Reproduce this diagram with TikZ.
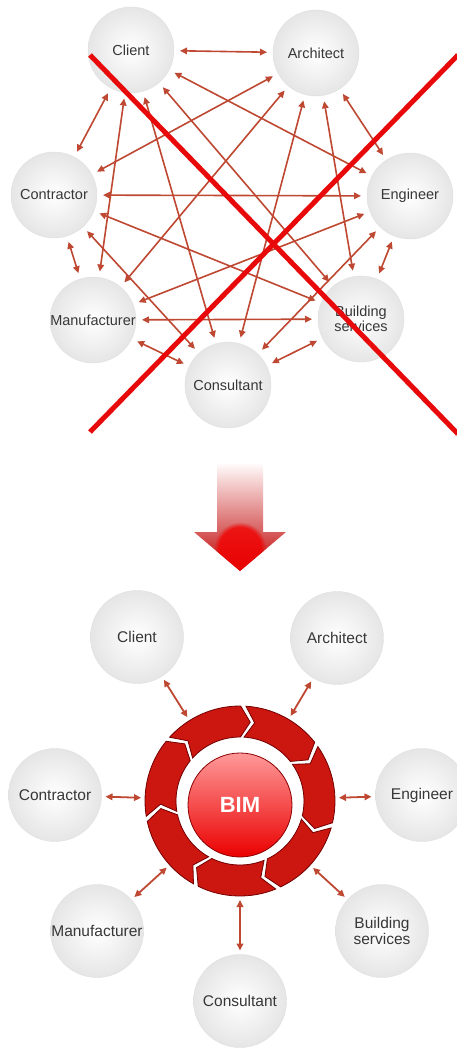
\documentclass[tikz,border=0pt]{standalone}
\usepackage{fontspec}
\setmainfont{Liberation Sans}
\usetikzlibrary{arrows.meta,fadings}
\definecolor{arrowc}{RGB}{190,72,50}
\definecolor{xred}{RGB}{232,10,10}
\definecolor{txt}{RGB}{55,55,55}
\definecolor{ringred}{RGB}{204,22,16}
\begin{document}
\begin{tikzpicture}[x=1pt,y=-1pt,
  bubble/.style={circle, inner sep=0pt, outer sep=0pt, inner color=white, outer color=black!10,
    draw=black!12, line width=0.4pt, text=txt, align=center},
  topb/.style={bubble, minimum size=86pt, font=\fontsize{14.5}{15}\selectfont},
  botb/.style={bubble, minimum size=93pt, font=\fontsize{15.5}{16.5}\selectfont},
  tip/.tip={Triangle[length=7pt,width=6.5pt]},
  link/.style={draw=arrowc, line width=1.6pt, {tip}-{tip}, shorten <=6pt, shorten >=6pt},
  blink/.style={draw=arrowc, line width=1.8pt, {tip}-{tip}, shorten <=4pt, shorten >=4pt},
  segment/.style={fill=ringred, draw=red!45!black, line width=0.8pt},
  xline/.style={draw=xred, line width=5pt}]
\fill[white] (0,0) rectangle (456,1054);
\useasboundingbox (0,0) rectangle (456,1054);

% ---------- top: everyone with everyone ----------
\node[topb] (cl) at (131,50) {Client};
\node[topb] (ar) at (316,53) {Architect};
\node[topb] (co) at (54,195) {Contractor};
\node[topb] (en) at (410,196) {Engineer};
\node[topb] (ma) at (93,320) {Manufacturer};
\node[topb] (bs) at (361,319) {Building\\services};
\node[topb] (cs) at (228,385) {Consultant};

\foreach \a/\b in {cl/ar, cl/co, ar/en, co/ma, en/bs, ma/cs, cs/bs, co/en, ma/bs,
  cl/en, cl/bs, cl/cs, cl/ma, ar/co, ar/ma, ar/cs, ar/bs, co/bs, co/cs, en/ma, en/cs}
  \draw[link] (\a) -- (\b);

\coordinate (xa1) at (90,55);
\coordinate (xa2) at (458,434);
\coordinate (xb1) at (458,55);
\coordinate (xb2) at (90,432);
\draw[xline] (xa1) -- (xa2);
\draw[xline] (xb1) -- (xb2);

% ---------- big down arrow ----------
\begin{scope}
  \clip (217,464) -- (263,464) -- (263,532) -- (286,532) -- (240,571) -- (194,532) -- (217,532) -- cycle;
  \shade[top color=red!2, middle color=red!38, bottom color=red!75!black] (190,464) rectangle (290,572);
  \fill[red!95!black, opacity=0.8, path fading=circle with fuzzy edge 20 percent] (240,548) circle (26);
\end{scope}

% ---------- bottom: BIM hub ----------
\node[circle, minimum size=190pt, inner sep=0pt, outer sep=0pt] (ring) at (240,801) {};
\begin{scope}[shift={(240,801)}, yscale=-1]
  \foreach \k in {0,...,6}{
    \pgfmathsetmacro\t{88-51.4286*\k-1.6}
    \pgfmathsetmacro\h{88-51.4286*(\k+1)+1.6}
    \pgfmathsetmacro\hp{\h-7}
    \pgfmathsetmacro\tp{\t-7}
    \path[segment] (\t:95) arc[start angle=\t, end angle=\h, radius=95] -- (\hp:79.5)
      -- (\h:64) arc[start angle=\h, end angle=\t, radius=64] -- (\tp:79.5) -- cycle;
  }
\end{scope}
\node[circle, minimum size=104pt, inner sep=0pt, top color=red!40, middle color=red!82, bottom color=red!92!black,
  draw=red!55!black, line width=0.8pt, text=white, font=\bfseries\fontsize{22}{22}\selectfont] (bim) at (240,805) {BIM};

\node[botb] (bcl) at (137,637) {Client};
\node[botb] (bar) at (337,638) {Architect};
\node[botb] (bco) at (55,795) {Contractor};
\node[botb] (ben) at (422,795) {Engineer};
\node[botb] (bma) at (97,931) {Manufacturer};
\node[botb] (bbs) at (382,931) {Building\\services};
\node[botb] (bcs) at (240,1001) {Consultant};

\foreach \a in {bcl,bar,bco,ben,bma,bbs,bcs}
  \draw[blink] (\a) -- (ring);
\end{tikzpicture}
\end{document}
